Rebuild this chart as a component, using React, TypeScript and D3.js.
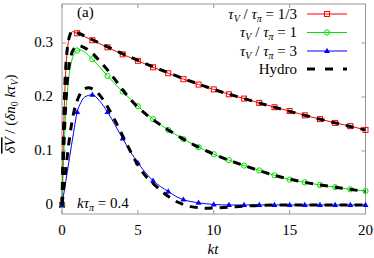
import * as d3 from "d3";

// kt, dV/(dn0 k tauV)
const redSeries: [number, number][] = [
  [0, 0], [0.05, 0.07], [0.1, 0.13], [0.15, 0.18], [0.2, 0.22], [0.3, 0.27], [0.4, 0.298],
  [0.5, 0.312], [0.7, 0.321], [1, 0.318], [2, 0.305], [3, 0.292], [4, 0.279], [5, 0.267],
  [6, 0.255], [7, 0.244], [8, 0.233], [9, 0.223], [10, 0.214], [11, 0.205], [12, 0.197],
  [13, 0.189], [14, 0.181], [15, 0.174], [16, 0.166], [17, 0.159], [18, 0.152], [19, 0.146],
  [20, 0.139],
];
const greenSeries: [number, number][] = [
  [0, 0], [0.1, 0.08], [0.2, 0.145], [0.3, 0.19], [0.4, 0.225], [0.6, 0.262], [0.8, 0.28],
  [1, 0.286], [1.2, 0.287], [1.5, 0.283], [2, 0.27], [2.5, 0.255], [3, 0.239], [4, 0.21],
  [5, 0.183], [6, 0.159], [7, 0.139], [8, 0.122], [9, 0.107], [10, 0.094], [11, 0.083],
  [12, 0.073], [13, 0.064], [14, 0.055], [15, 0.047], [16, 0.042], [17, 0.037], [18, 0.033],
  [19, 0.029], [20, 0.026],
];
const blueSeries: [number, number][] = [
  [0, 0], [0.25, 0.044], [0.5, 0.088], [0.75, 0.132], [1, 0.172], [1.25, 0.19], [1.5, 0.2],
  [2, 0.204], [2.5, 0.192], [3, 0.172], [3.5, 0.148], [4, 0.123], [4.5, 0.099], [5, 0.078],
  [5.5, 0.06], [6, 0.045], [6.5, 0.034], [7, 0.025], [7.5, 0.016], [8, 0.01], [9, 0.004],
  [10, 0.001], [11, 0], [12, 0], [13, 0], [14, 0], [15, 0], [16, 0], [17, 0], [18, 0],
  [19, 0], [20, 0],
];
const hydroRed: [number, number][] = [
  [0, 0], [0.05, 0.075], [0.1, 0.14], [0.15, 0.19], [0.2, 0.23], [0.3, 0.275], [0.4, 0.3],
  [0.5, 0.313], [0.7, 0.322], [1, 0.319], [2, 0.306], [3, 0.293], [4, 0.28], [5, 0.268],
  [6, 0.256], [7, 0.245], [8, 0.234], [9, 0.224], [10, 0.214], [12, 0.197], [14, 0.181],
  [16, 0.166], [18, 0.152], [20, 0.139],
];
const hydroGreen: [number, number][] = [
  [0, 0], [0.1, 0.09], [0.2, 0.16], [0.3, 0.21], [0.4, 0.243], [0.6, 0.277], [0.8, 0.29],
  [1.1, 0.295], [1.5, 0.291], [2, 0.281], [2.5, 0.266], [3, 0.25], [3.5, 0.232], [4, 0.213],
  [4.5, 0.196], [5, 0.181], [6, 0.158], [7, 0.139], [8, 0.122], [9, 0.107], [10, 0.094],
  [12, 0.073], [14, 0.055], [16, 0.042], [18, 0.033], [20, 0.025],
];
const hydroBlue: [number, number][] = [
  [0, 0], [0.25, 0.065], [0.5, 0.125], [0.75, 0.168], [1, 0.193], [1.25, 0.208], [1.5, 0.215],
  [1.75, 0.217], [2, 0.215], [2.5, 0.203], [3, 0.182], [3.5, 0.156], [4, 0.128], [4.5, 0.1],
  [5, 0.074], [5.5, 0.054], [6, 0.04], [6.5, 0.027], [7, 0.016], [7.5, 0.007], [8, 0.001],
  [8.5, -0.003], [9, -0.005], [9.5, -0.006], [10, -0.0055], [11, -0.004], [12, -0.002],
  [13, -0.001], [14, 0], [16, 0], [18, 0], [20, 0],
];

const xTicks = [0, 5, 10, 15, 20];
const yTicks = [0, 0.1, 0.2, 0.3];
const legendLabels = ["1/3", "1", "3"];

const W = 374;
const H = 258;
const font = "Liberation Serif";

export default function App() {
  const x = d3.scaleLinear().domain([0, 20]).range([62, 365.5]);
  const y = d3.scaleLinear().domain([-0.0167, 0.3722]).range([214, 4]);
  const line = d3
    .line<[number, number]>()
    .x((d) => x(d[0]))
    .y((d) => y(d[1]))
    .curve(d3.curveMonotoneX);

  const series = [
    { data: redSeries, color: "#ff0000", marker: "square" },
    { data: greenSeries, color: "#00e000", marker: "circle" },
    { data: blueSeries, color: "#0000ff", marker: "triangle" },
  ];

  const marker = (kind: string, color: string, cx: number, cy: number, key: string) => {
    if (kind === "square")
      return <rect key={key} x={cx - 2.5} y={cy - 2.5} width={5} height={5} fill="none" stroke={color} strokeWidth={1} />;
    if (kind === "circle")
      return <circle key={key} cx={cx} cy={cy} r={2.6} fill="none" stroke={color} strokeWidth={1} />;
    return <path key={key} d={`M${cx},${cy - 3.2}L${cx + 3},${cy + 2}L${cx - 3},${cy + 2}Z`} fill={color} />;
  };

  const [x0, x1] = x.range();
  const [y0, y1] = y.range();
  const frame = "#999";

  return (
    <svg width={W} height={H} style={{ position: "absolute", left: 0, top: 0, background: "#fff" }}>
      {/* frame + ticks */}
      <rect x={x0} y={y1} width={x1 - x0} height={y0 - y1} fill="none" stroke={frame} strokeWidth={1} />
      {xTicks.map((t) => (
        <g key={"xt" + t}>
          <line x1={x(t)} x2={x(t)} y1={y0} y2={y0 - 4} stroke={frame} />
          <line x1={x(t)} x2={x(t)} y1={y1} y2={y1 + 4} stroke={frame} />
          <text x={x(t)} y={235} textAnchor="middle" fontSize={15} fontFamily={font}>{t}</text>
        </g>
      ))}
      {yTicks.map((t) => (
        <g key={"yt" + t}>
          <line x1={x0} x2={x0 + 4} y1={y(t)} y2={y(t)} stroke={frame} />
          <line x1={x1} x2={x1 - 4} y1={y(t)} y2={y(t)} stroke={frame} />
          <text x={53} y={y(t) + 4.5} textAnchor="end" fontSize={15} fontFamily={font}>{t === 0 ? "0" : t.toFixed(1)}</text>
        </g>
      ))}

      {/* curves */}
      {series.map((s, i) => (
        <g key={"s" + i}>
          <path d={line(s.data) ?? ""} fill="none" stroke={s.color} strokeWidth={1} />
          {s.data
            .filter((d) => Number.isInteger(d[0]))
            .map((d) => marker(s.marker, s.color, x(d[0]), y(d[1]), `m${i}-${d[0]}`))}
        </g>
      ))}
      {[hydroRed, hydroGreen, hydroBlue].map((h, i) => (
        <path key={"h" + i} d={line(h) ?? ""} fill="none" stroke="#000" strokeWidth={3} strokeDasharray="8,7" />
      ))}

      {/* annotations */}
      <text x={77} y={17} fontSize={15} fontFamily={font}>(a)</text>
      <text x={77} y={208} fontSize={15} fontFamily={font}>
        <tspan fontStyle="italic">kτ</tspan>
        <tspan fontStyle="italic" fontSize={10} dy={3}>π</tspan>
        <tspan dy={-3}> = 0.4</tspan>
      </text>
      <text x={213} y={254} textAnchor="middle" fontSize={15} fontStyle="italic" fontFamily={font}>kt</text>
      <text transform="translate(15,114) rotate(-90)" textAnchor="middle" fontSize={15} fontFamily={font}>
        <tspan fontStyle="italic" textDecoration="overline">δV</tspan>
        <tspan> / (</tspan>
        <tspan fontStyle="italic">δn</tspan>
        <tspan fontSize={10} dy={3}>0</tspan>
        <tspan fontStyle="italic" dy={-3}> kτ</tspan>
        <tspan fontStyle="italic" fontSize={10} dy={3}>V</tspan>
        <tspan dy={-3}>)</tspan>
      </text>

      {/* legend */}
      {series.map((s, i) => {
        const ly = 14 + i * 18.5;
        return (
          <g key={"l" + i}>
            <text x={297} y={ly + 4.5} textAnchor="end" fontSize={15} fontFamily={font}>
              <tspan fontStyle="italic">τ</tspan>
              <tspan fontStyle="italic" fontSize={10} dy={3}>V</tspan>
              <tspan dy={-3}> / </tspan>
              <tspan fontStyle="italic">τ</tspan>
              <tspan fontStyle="italic" fontSize={10} dy={3}>π</tspan>
              <tspan dy={-3}> = {legendLabels[i]}</tspan>
            </text>
            <line x1={307} x2={347} y1={ly} y2={ly} stroke={s.color} strokeWidth={1} />
            {marker(s.marker, s.color, 327, ly, "lm" + i)}
          </g>
        );
      })}
      <text x={297} y={69 + 4.5} textAnchor="end" fontSize={15} fontFamily={font}>Hydro</text>
      <line x1={307} x2={347} y1={69} y2={69} stroke="#000" strokeWidth={3} strokeDasharray="8,10" />
    </svg>
  );
}
